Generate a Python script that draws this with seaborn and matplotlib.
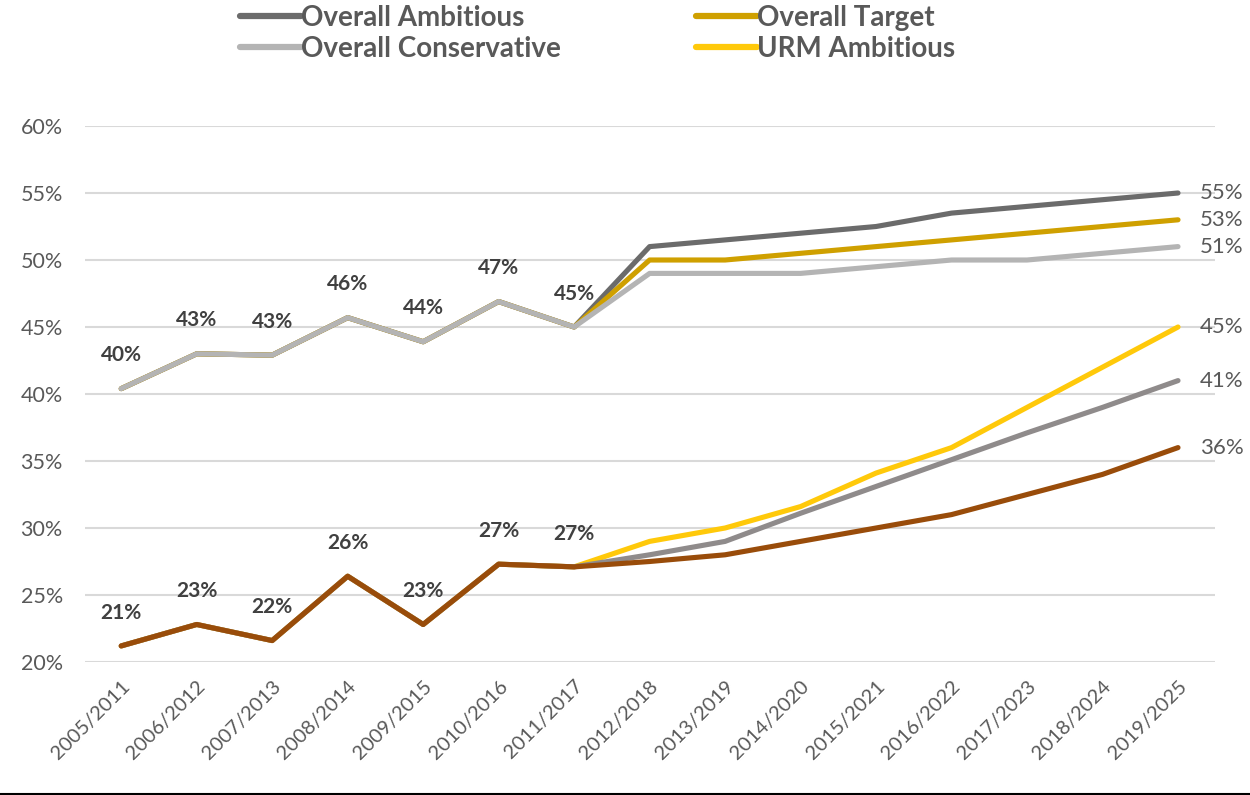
import numpy as np
import pandas as pd
import matplotlib
matplotlib.use("Agg")
import matplotlib.pyplot as plt
import seaborn as sns
from matplotlib.lines import Line2D

sns.set_theme(style="white")
plt.rcParams["font.family"] = ["Lato", "DejaVu Sans"]

years = ["2005/2011", "2006/2012", "2007/2013", "2008/2014", "2009/2015",
         "2010/2016", "2011/2017", "2012/2018", "2013/2019", "2014/2020",
         "2015/2021", "2016/2022", "2017/2023", "2018/2024", "2019/2025"]

# shared history (first 7 cohorts), then projections
overall_hist = [40.4, 43.0, 42.9, 45.7, 43.9, 46.9, 45.0]
urm_hist = [21.2, 22.8, 21.6, 26.4, 22.8, 27.3, 27.1]

overall_ambitious = overall_hist + [51.0, 51.5, 52.0, 52.5, 53.5, 54.0, 54.5, 55.0]
overall_target = overall_hist + [50.0, 50.0, 50.5, 51.0, 51.5, 52.0, 52.5, 53.0]
overall_conservative = overall_hist + [49.0, 49.0, 49.0, 49.5, 50.0, 50.0, 50.5, 51.0]
urm_ambitious = urm_hist + [29.0, 30.0, 31.6, 34.1, 36.0, 39.0, 42.0, 45.0]
urm_target = urm_hist + [28.0, 29.0, 31.1, 33.1, 35.1, 37.1, 39.0, 41.0]
urm_conservative = urm_hist + [27.5, 28.0, 29.0, 30.0, 31.0, 32.5, 34.0, 36.0]

series = [
    ("Overall Ambitious", overall_ambitious, "#6b6b6b"),
    ("Overall Target", overall_target, "#cfa000"),
    ("Overall Conservative", overall_conservative, "#b4b4b4"),
    ("URM Ambitious", urm_ambitious, "#ffc90a"),
    ("URM Target", urm_target, "#8f8b8b"),
    ("URM Conservative", urm_conservative, "#994c0a"),
]
# legend fills column by column: left column, then right column
legend_names = ["Overall Ambitious", "Overall Conservative",
                "Overall Target", "URM Ambitious"]

fig = plt.figure(figsize=(12.5, 7.95), dpi=100)
ax = fig.add_axes([0.068, 0.1673, 0.904, 0.6742])

x = np.arange(len(years))
handles = {}
for name, vals, col in series:
    df = pd.DataFrame({"x": x, "y": vals})
    sns.lineplot(data=df, x="x", y="y", ax=ax, color=col, linewidth=3.7,
                 solid_capstyle="round", solid_joinstyle="round", sort=False)
    handles[name] = Line2D([], [], color=col, linewidth=4.5, solid_capstyle="round")

ax.set_xlim(-0.48, 14.49)
ax.set_ylim(20, 60)
ax.set_yticks(np.arange(20, 61, 5))
ax.set_yticklabels([f"{v}%" for v in range(20, 61, 5)], fontsize=15.5, color="#595959")
ax.set_xticks(x)
ax.set_xticklabels(years, rotation=45, ha="right", rotation_mode="anchor",
                   fontsize=14.5, color="#595959")
ax.tick_params(axis="y", length=0, pad=16)
ax.tick_params(axis="x", length=0, pad=11)
ax.set_xlabel("")
ax.set_ylabel("")
ax.grid(axis="y", color="#d9d9d9", linewidth=1.5)
ax.set_axisbelow(True)
for s in ax.spines.values():
    s.set_visible(False)

# labels above the historical points
for i in range(len(overall_hist)):
    ax.annotate(f"{overall_hist[i]:.0f}%", (x[i], overall_hist[i]),
                xytext=(0, 24), textcoords="offset points", ha="center",
                va="center", fontsize=15, fontweight="bold", color="#404040")
    ax.annotate(f"{urm_hist[i]:.0f}%", (x[i], urm_hist[i]),
                xytext=(0, 24), textcoords="offset points", ha="center",
                va="center", fontsize=15, fontweight="bold", color="#404040")

# end-of-line labels
for name, vals, col in series:
    ax.annotate(f"{vals[-1]:.0f}%", (x[-1], vals[-1]), xytext=(16, 0),
                textcoords="offset points", ha="left", va="center",
                fontsize=16, color="#595959", annotation_clip=False)

leg = fig.legend([handles[n] for n in legend_names], legend_names,
                 loc="upper left", bbox_to_anchor=(0.172, 1.025), ncol=2,
                 frameon=False, handlelength=2.2, handletextpad=0.0,
                 columnspacing=4.85, labelspacing=0.16,
                 prop={"size": 20, "weight": "bold"})
for t in leg.get_texts():
    t.set_color("#595959")

fig.add_artist(Line2D([0, 1], [0.0015, 0.0015], color="black", linewidth=1.5,
                      transform=fig.transFigure))

fig.savefig("out.png", dpi=100, facecolor="white")
